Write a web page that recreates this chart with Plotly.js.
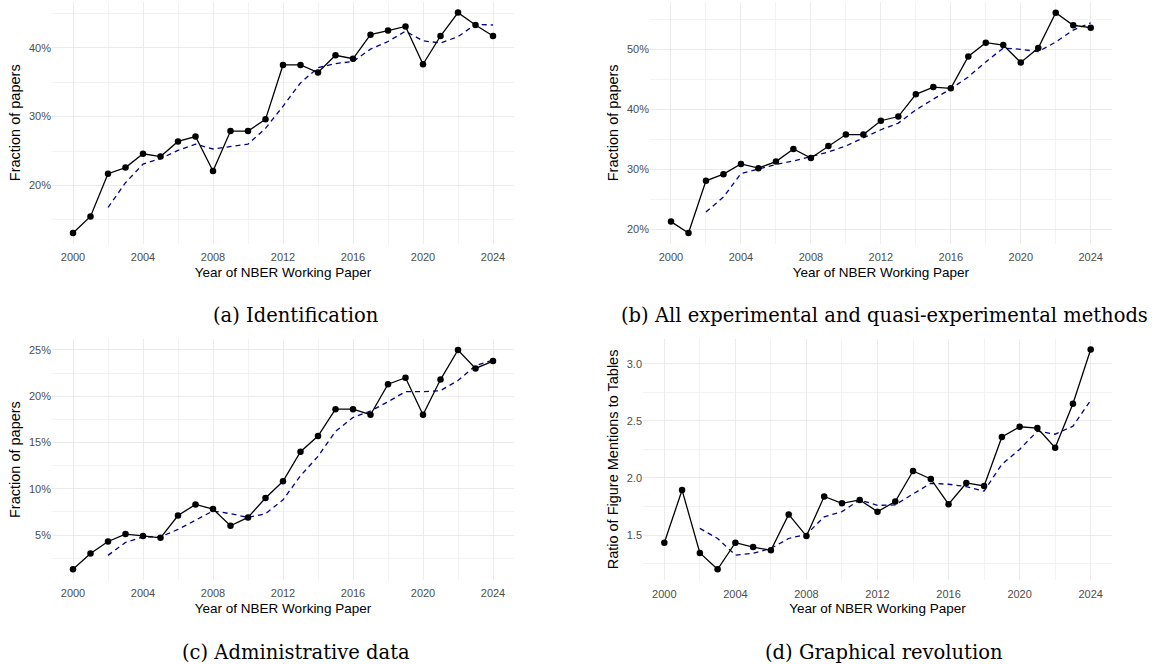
<!DOCTYPE html>
<html>
<head>
<meta charset="utf-8">
<script src="https://cdn.plot.ly/plotly-3.0.1.min.js"></script>
<style>
  html, body { margin: 0; padding: 0; background: #fff; }
  #chart { width: 1175px; height: 664px; }
</style>
</head>
<body>
<div id="chart"></div>
<script>
// ---- Data ----
const years = [2000,2001,2002,2003,2004,2005,2006,2007,2008,2009,2010,2011,2012,2013,2014,2015,2016,2017,2018,2019,2020,2021,2022,2023,2024];
const maYears = [2002,2003,2004,2005,2006,2007,2008,2009,2010,2011,2012,2013,2014,2015,2016,2017,2018,2019,2020,2021,2022,2023,2024];

// (a) Identification, % of papers
const identValues = [13.1,15.5,21.7,22.6,24.6,24.2,26.4,27.1,22.1,27.9,27.9,29.6,37.5,37.5,36.4,38.9,38.4,41.9,42.5,43.1,37.6,41.7,45.1,43.3,41.7];
const identMA = [16.8,20.4,23.1,23.9,25.1,26.0,25.3,25.7,26.0,28.3,31.5,34.9,37.1,37.7,38.0,39.8,40.9,42.4,41.0,40.7,41.6,43.4,43.3];

// (b) All experimental and quasi-experimental methods, % of papers
const expValues = [21.3,19.4,28.1,29.2,30.9,30.2,31.3,33.4,31.9,33.9,35.8,35.8,38.1,38.8,42.5,43.7,43.5,48.8,51.1,50.7,47.8,50.2,56.1,54.0,53.6];
const expMA = [22.9,25.4,29.3,30.1,30.8,31.4,32.1,32.9,33.9,35.3,36.6,37.7,39.9,41.7,43.4,45.4,47.9,50.2,50.0,49.6,51.2,53.2,54.4];

// (c) Administrative data, % of papers
const adminValues = [1.3,3.0,4.3,5.1,4.9,4.7,7.1,8.3,7.8,6.0,6.9,9.0,10.8,14.0,15.7,18.6,18.6,18.0,21.3,22.0,18.0,21.8,25.0,23.0,23.8];
const adminMA = [2.8,4.2,4.8,4.8,5.6,6.6,7.6,7.3,6.9,7.3,8.8,11.4,13.5,16.2,17.7,18.4,19.4,20.5,20.5,20.6,21.7,23.3,23.9];

// (d) Graphical revolution, ratio of figure mentions to tables
const graphValues = [1.433,1.894,1.343,1.200,1.433,1.395,1.366,1.681,1.491,1.838,1.778,1.808,1.705,1.793,2.061,1.991,1.770,1.956,1.930,2.358,2.448,2.437,2.264,2.649,3.124];
const graphMA = [1.558,1.47,1.325,1.34,1.383,1.47,1.506,1.66,1.705,1.808,1.76,1.764,1.86,1.953,1.945,1.924,1.885,2.12,2.25,2.41,2.383,2.453,2.68];

const xTickVals = [2000,2004,2008,2012,2016,2020,2024];
const xTickText = ['2000','2004','2008','2012','2016','2020','2024'];
const xTitle = 'Year of NBER Working Paper';
const captions = ['(a) Identification','(b) All experimental and quasi-experimental methods','(c) Administrative data','(d) Graphical revolution'];
const yTitles = ['Fraction of papers','Fraction of papers','Fraction of papers','Ratio of Figure Mentions to Tables'];

// ---- Build ----
const W = 1175, H = 664;
const px = v => v / W;
const py = v => 1 - v / H;
const sans = 'Liberation Sans, Arial, sans-serif';

const panels = [
  {vals: identValues, ma: identMA, xd: [52, 514],  yd: [1.6, 244], yr: [11.5, 46.7], ytv: [20,30,40], ysuf: '%', ydt: 10, yminor: 5, ax: ''},
  {vals: expValues,   ma: expMA,   xd: [650, 1111.7], yd: [1.6, 244], yr: [17.57, 57.94], ytv: [20,30,40,50], ysuf: '%', ydt: 10, yminor: 5, ax: '2'},
  {vals: adminValues, ma: adminMA, xd: [52, 514],  yd: [339, 580.2], yr: [0.115, 26.185], ytv: [5,10,15,20,25], ysuf: '%', ydt: 5, yminor: 2.5, ax: '3'},
  {vals: graphValues, ma: graphMA, xd: [643, 1112], yd: [338.6, 580.3], yr: [1.104, 3.220], ytv: [1.5,2.0,2.5,3.0], ysuf: '', ydt: 0.5, yminor: 0.25, ax: '4'}
];

const traces = [];
const layout = {
  width: W, height: H,
  margin: {l: 0, r: 0, t: 0, b: 0},
  paper_bgcolor: '#ffffff',
  plot_bgcolor: '#ffffff',
  showlegend: false,
  font: {family: sans, color: '#000'},
  annotations: []
};

const gridCol = '#EBEBEB';
const minorCol = '#F2F2F2';

panels.forEach((p, i) => {
  const xa = 'x' + p.ax, ya = 'y' + p.ax;
  traces.push({
    x: maYears, y: p.ma, xaxis: xa, yaxis: ya, type: 'scatter', mode: 'lines',
    line: {color: '#00008B', width: 1.3, dash: '5px,4px'}, hoverinfo: 'skip'
  });
  traces.push({
    x: years, y: p.vals, xaxis: xa, yaxis: ya, type: 'scatter', mode: 'lines+markers',
    line: {color: '#000000', width: 1.3}, marker: {color: '#000000', size: 6.5}
  });
  const xKey = 'xaxis' + p.ax, yKey = 'yaxis' + p.ax;
  layout[xKey] = {
    domain: [px(p.xd[0]), px(p.xd[1])],
    anchor: ya,
    range: [1998.8, 2025.2],
    tickmode: 'array', tickvals: xTickVals, ticktext: xTickText,
    showgrid: true, gridcolor: gridCol, gridwidth: 1,
    minor: {tickmode: 'linear', tick0: 2002, dtick: 4, showgrid: true, gridcolor: minorCol, gridwidth: 1, ticks: ''},
    zeroline: false, showline: false, ticks: 'outside', ticklen: 3, tickcolor: 'rgba(0,0,0,0)',
    tickfont: {family: sans, size: 11, color: '#4D4D4D'},
    title: {text: xTitle, font: {family: sans, size: 13.5, color: '#000'}, standoff: 5}
  };
  layout[yKey] = {
    domain: [py(p.yd[1]), py(p.yd[0])],
    anchor: xa,
    range: p.yr,
    tickmode: 'array', tickvals: p.ytv,
    ticktext: p.ytv.map(v => p.ysuf ? (v + p.ysuf) : v.toFixed(1)),
    showgrid: true, gridcolor: gridCol, gridwidth: 1,
    minor: {tickmode: 'linear', tick0: p.ytv[0] - p.yminor, dtick: p.ydt, showgrid: true, gridcolor: minorCol, gridwidth: 1, ticks: ''},
    zeroline: false, showline: false, ticks: '',
    tickfont: {family: sans, size: 11, color: '#4D4D4D'},
    title: {text: yTitles[i], font: {family: sans, size: 14.5, color: '#000'}, standoff: 4}
  };
  const capY = i < 2 ? 315 : 652;
  layout.annotations.push({
    text: captions[i], xref: 'paper', yref: 'paper',
    x: px(i % 2 === 0 ? 296 : 884), y: py(capY), xanchor: 'center', yanchor: 'middle',
    showarrow: false,
    font: {family: 'DejaVu Serif, Liberation Serif, serif', size: 19.5, color: '#000'}
  });
});

Plotly.newPlot('chart', traces, layout, {staticPlot: true, displayModeBar: false});
</script>
</body>
</html>
